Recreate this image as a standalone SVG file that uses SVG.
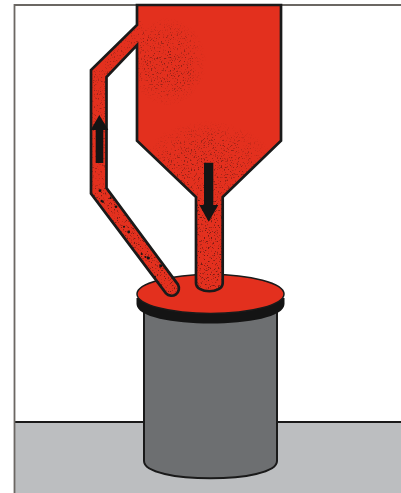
<svg xmlns="http://www.w3.org/2000/svg" width="401" height="493" viewBox="0 0 401 493">
<style>
.ol{stroke:#1a1a1a;stroke-width:2.700;stroke-linejoin:miter}
.red{fill:#e3301e}
.blk{fill:#141414}
</style>
<defs>
<filter id="noise" x="0" y="0" width="100%" height="100%" color-interpolation-filters="sRGB">
<feTurbulence type="fractalNoise" baseFrequency="0.7" numOctaves="2" seed="7"/>
<feColorMatrix type="matrix" values="0 0 0 0 0.3  0 0 0 0 0.08  0 0 0 0 0.06  7 0 0 0 -4.1"/>
<feGaussianBlur stdDeviation="0.25"/>
</filter>
<radialGradient id="fade">
<stop offset="0" stop-color="#fff" stop-opacity="0.65"/>
<stop offset="0.6" stop-color="#fff" stop-opacity="0.45"/>
<stop offset="1" stop-color="#fff" stop-opacity="0"/>
</radialGradient>
<clipPath id="bodyClip">
<path id="bodyShape" d="M137 5V25L91 70V193.500L166 293.400A7.500 7.500 0 0 0 178 284.600L106.500 188V77L137 45V140.700L196 197V283C196 294 222.700 294 222.700 283V197L281 140.700V5Z"/>
</clipPath>
<mask id="stipMask" maskUnits="userSpaceOnUse" x="0" y="0" width="401" height="493">
<ellipse cx="168" cy="62" rx="38" ry="44" fill="url(#fade)"/>
<ellipse cx="208" cy="165" rx="66" ry="44" fill="url(#fade)"/>
<rect x="196" y="200" width="28" height="95" fill="#fff" opacity="0.7"/>
<polygon points="88,70 110,70 110,195 92,195" fill="#fff" opacity="0.4"/>
<polygon points="88,190 110,185 185,285 170,300" fill="#fff" opacity="0.65"/>
<polygon points="105,50 140,20 150,40 105,80" fill="#fff" opacity="0.35"/>
</mask>
</defs>
<rect width="401" height="493" fill="#fff"/>
<g id="floor">
<rect x="15" y="422" width="386" height="71" fill="#bcbec0"/>
<path d="M15 422H401" stroke="#1a1a1a" stroke-width="2" fill="none"/>
</g>
<g id="frame" fill="none" stroke="#6b6763" stroke-width="1.800">
<path d="M401 5H14.500V493"/>
</g>
<g id="drum">
<path fill="#6d6f71" stroke="#1a1a1a" stroke-width="2" d="M144 312V461C144 484 277 484 277 461V312Z"/>
</g>
<g id="lid">
<path class="blk" d="M136.500 298V304C136.500 330 284.500 330 284.500 304V298Z"/>
<ellipse cx="210.500" cy="294" rx="73.500" ry="19.500" class="red" stroke="#1a1a1a" stroke-width="1.500"/>
</g>
<g id="hopper">
<use href="#bodyShape" class="red"/>
<g clip-path="url(#bodyClip)">
<rect x="85" y="5" width="200" height="295" filter="url(#noise)" mask="url(#stipMask)"/>
</g>
<use href="#bodyShape" fill="none" class="ol"/>
<g class="blk">
<circle cx="100" cy="190.700" r="1.400"/><circle cx="101.700" cy="201" r="1.200"/><circle cx="110.700" cy="198" r="1"/>
<circle cx="116" cy="206.700" r="1.300"/><circle cx="124" cy="226.700" r="1"/><circle cx="128.700" cy="232" r="1.400"/>
<circle cx="141.700" cy="254" r="1"/><circle cx="148.300" cy="258" r="1.600"/><circle cx="145.500" cy="257" r="1"/>
<circle cx="160.700" cy="265.700" r="1.500"/><circle cx="155" cy="276.700" r="1"/><circle cx="103" cy="202" r="0.900"/>
</g>
</g>
<g id="connectors" class="blk">
<polygon id="arrow-up" points="95.700,163 103.300,163 103.300,130 108.300,130 99.300,115 90.700,130 95.700,130"/>
<polygon id="arrow-down" points="204,162.700 213.300,162.700 213.300,205 218.300,205 208.700,221.700 199.300,205 204,205"/>
</g>
</svg>
